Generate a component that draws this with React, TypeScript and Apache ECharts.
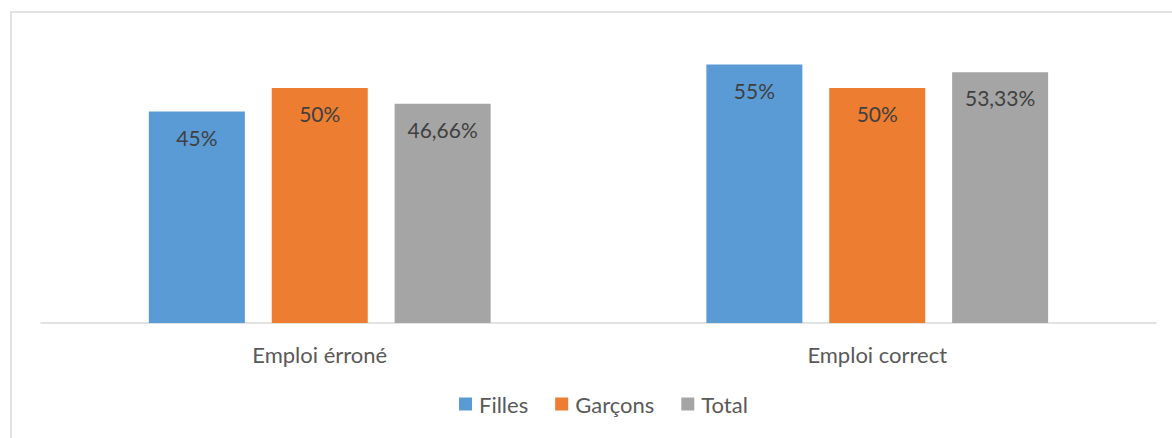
import React, { useEffect, useRef } from "react";
import * as echarts from "echarts";

const categories = ["Emploi érroné", "Emploi correct"];
const seriesNames = ["Filles", "Garçons", "Total"];
const filles = [45, 55];
const garcons = [50, 50];
const total = [46.66, 53.33];
const colors = ["#5B9BD5", "#ED7D31", "#A5A5A5"];

const FONT = "Lato";

function formatPct(v: number): string {
  return String(v).replace(".", ",") + "%";
}

export default function App() {
  const ref = useRef<HTMLDivElement>(null);

  useEffect(() => {
    if (!ref.current) return;
    const chart = echarts.init(ref.current, undefined, { renderer: "svg" });
    const values = [filles, garcons, total];
    chart.setOption({
      animation: false,
      backgroundColor: "#ffffff",
      textStyle: { fontFamily: FONT },
      grid: { left: 41, right: 16, top: 41, bottom: 115 },
      legend: {
        data: seriesNames,
        bottom: 18,
        left: 454,
        itemWidth: 13,
        itemHeight: 13,
        itemGap: 27,
        icon: "rect",
        textStyle: { fontFamily: FONT, fontSize: 22, color: "#595959", padding: [0, 0, 0, 2] },
      },
      xAxis: {
        type: "category",
        data: categories,
        axisLine: { show: true, lineStyle: { color: "#D9D9D9", width: 1.5 } },
        axisTick: { show: false },
        axisLabel: { fontFamily: FONT, fontSize: 22, color: "#595959", margin: 20 },
      },
      yAxis: {
        type: "value",
        min: 0,
        max: 60,
        interval: 10,
        show: false,
        splitLine: { show: false },
      },
      graphic: [
        {
          type: "rect",
          shape: { x: 11, y: 12, width: 1200, height: 500 },
          style: { fill: "none", stroke: "#D9D9D9", lineWidth: 1.5 },
          silent: true,
        },
      ],
      series: seriesNames.map((name, i) => ({
        name,
        type: "bar",
        data: values[i],
        barWidth: 96,
        barGap: "28%",
        itemStyle: { color: colors[i] },
        label: {
          show: true,
          position: "insideTop",
          distance: 15,
          fontFamily: FONT,
          fontSize: 21,
          color: "#404040",
          formatter: (p: any) => formatPct(p.value),
        },
      })),
    });
    return () => chart.dispose();
  }, []);

  return (
    <div
      ref={ref}
      style={{ position: "fixed", left: 0, top: 0, width: 1172, height: 438 }}
    />
  );
}
